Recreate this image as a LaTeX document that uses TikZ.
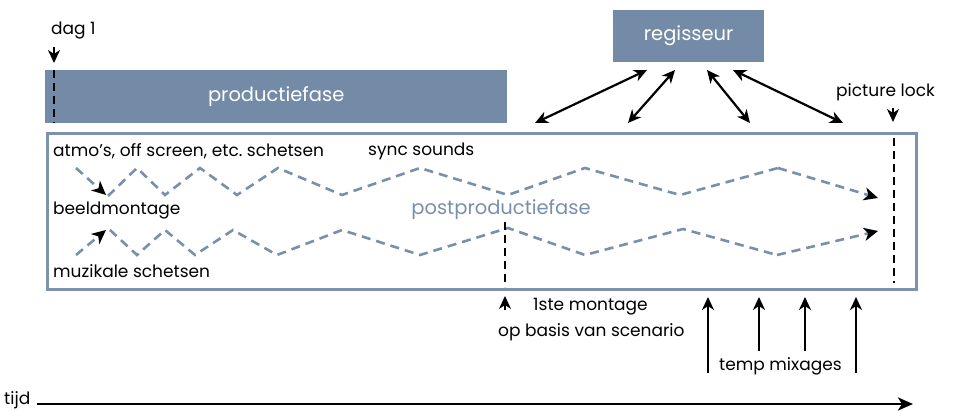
\documentclass[tikz,border=0pt]{standalone}
\usepackage{fontspec}
\setmainfont{Poppins}
\usetikzlibrary{arrows.meta}
\definecolor{phase}{HTML}{738BA7}
\definecolor{frame}{HTML}{7D93AD}
\definecolor{flowblue}{HTML}{7890AB}
\begin{document}
\begin{tikzpicture}[x=1pt,y=-1pt,
  phasebox/.style={fill=phase, text=white, inner sep=0, anchor=north west,
    font=\fontsize{19.5}{19.5}\selectfont},
  lbl/.style={inner sep=0, anchor=west, font=\fontsize{17}{17}\selectfont},
  flow/.style={draw=flowblue, line width=2.6pt, dash pattern=on 9pt off 6pt},
  flowtip/.style={flow, -{Stealth[color=black, length=14pt, width=13pt, inset=4pt]}},
  marker/.style={draw=black, line width=2.6pt, dash pattern=on 8pt off 5pt},
  headtip/.style={line width=2.2pt, -{Stealth[length=13pt, width=12pt, inset=4pt]}},
  duo/.style={line width=2.2pt, {Stealth[length=13pt, width=12pt, inset=4pt]}-{Stealth[length=13pt, width=12pt, inset=4pt]}},
]
\useasboundingbox (0,0) rectangle (954,411);

% production phase and director
\node[phasebox, minimum width=462pt, minimum height=53pt] (prod) at (45,70) {productiefase};
\node[phasebox, minimum width=151pt, minimum height=52pt] (reg) at (613,10) {regisseur};

% post-production frame
\node[draw=frame, line width=2.8pt, anchor=north west, inner sep=0,
      minimum width=869pt, minimum height=156pt] (post) at (46,132) {};
\node[inner sep=0, text=flowblue, font=\fontsize{19.5}{19.5}\selectfont] (postlbl) at (501,210) {postproductiefase};

% day one marker
\node[lbl] (dag) at (51,31) {dag 1};
\coordinate (dagA) at (54,47);
\coordinate (dagB) at (54,63);
\draw[headtip, line width=2pt] (dagA) -- (dagB);
\draw[marker] (54,70) -- (54,123);

% labels inside the frame
\node[lbl] (atmo) at (53,151) {atmo’s, off screen, etc.\ schetsen};
\node[lbl] (sync) at (368,151) {sync sounds};
\node[lbl] (beeld) at (53,211) {beeldmontage};
\node[lbl] (muz) at (53,271) {muzikale schetsen};

% sound sketches feeding the picture edit
\draw[flowtip] (76,168) -- (106,195);
\draw[flowtip] (76,255) -- (106,230);
\draw[flow] (108,196) -- (137,168) -- (165,195) -- (200,168) -- (237,195)
  -- (278,168) -- (342,195) -- (420,168) -- (508,195) -- (585,168)
  -- (680,195) -- (778,168);
\draw[flowtip] (778,168) -- (878,198);
\draw[flow] (110,230) -- (137,255) -- (165,230) -- (195,255) -- (233,230)
  -- (277,255) -- (342,230) -- (420,255) -- (508,228) -- (585,255)
  -- (683,229) -- (777,255);
\draw[flowtip] (777,255) -- (878,231);

% picture lock
\node[lbl] (lock) at (836,92) {picture lock};
\coordinate (lockA) at (893,108);
\coordinate (lockB) at (893,122);
\draw[headtip, line width=1.8pt] (lockA) -- (lockB);
\draw[marker] (894,138) -- (894,283);

% exchanges with the director
\coordinate (r1) at (535,123);
\coordinate (r2) at (628,123);
\coordinate (r3) at (750,123);
\coordinate (r4) at (843,123);
\draw[duo] (r1) -- (647,70);
\draw[duo] (r2) -- (675,70);
\draw[duo] (707,70) -- (r3);
\draw[duo] (733,70) -- (r4);

% first edit
\draw[marker] (505,222) -- (505,287);
\coordinate (firstA) at (505,310);
\coordinate (firstB) at (505,296);
\draw[headtip, line width=1.8pt] (firstA) -- (firstB);
\node[lbl] (first1) at (533,307) {1ste montage};
\node[lbl] (first2) at (498,332) {op basis van scenario};

% temp mixes
\node[lbl] (temp) at (719,366) {temp mixages};
\coordinate (t1) at (708,373);
\coordinate (t2) at (759,351);
\coordinate (t3) at (805,351);
\coordinate (t4) at (856,373);
\draw[headtip] (t1) -- (708,297);
\draw[headtip] (t2) -- (759,297);
\draw[headtip] (t3) -- (805,297);
\draw[headtip] (t4) -- (856,297);

% time axis
\node[lbl, anchor=base west] (tijd) at (4,405) {tijd};
\coordinate (tstart) at (37,404);
\coordinate (tend) at (913,404);
\draw[line width=2.8pt, -{Stealth[length=15pt, width=13pt, inset=4pt]}] (tstart) -- (tend);
\end{tikzpicture}
\end{document}
